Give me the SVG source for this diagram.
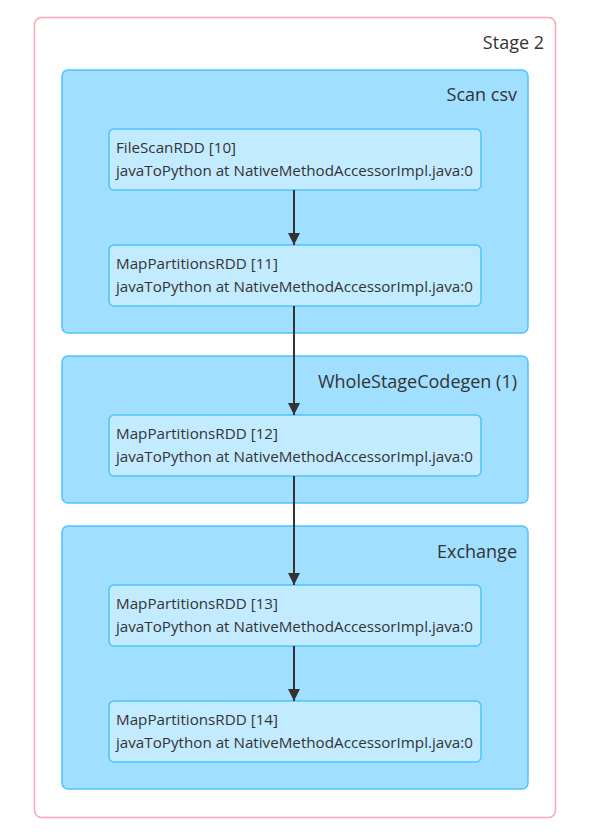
<svg xmlns="http://www.w3.org/2000/svg" width="592" height="834" viewBox="0 0 592 834">
  <style>
    .stage { fill: #ffffff; stroke: #ffa4b4; stroke-width: 1.5; }
    .cluster { fill: #a0dfff; stroke: #4fc3ff; stroke-width: 1.5; }
    .node { fill: #c3ebff; stroke: #4fc3ff; stroke-width: 1.5; }
    .title { font-family: "Open Sans", "Noto Sans", sans-serif; font-size: 18px; fill: #333333; text-anchor: end; }
    .label { font-family: "Open Sans", "Noto Sans", sans-serif; font-size: 15.2px; fill: #333333; }
    .edge { stroke: #333333; stroke-width: 2; fill: none; }
  </style>
  <defs>
    <marker id="arrow" viewBox="0 0 10 10" refX="10" refY="5" markerWidth="6" markerHeight="6" markerUnits="strokeWidth" orient="auto">
      <path d="M0,0 L10,5 L0,10 z" fill="#333333"/>
    </marker>
  </defs>

  <g id="stage-2">
    <rect class="stage" x="34.5" y="17.5" width="521" height="800" rx="7"/>
    <text class="title" x="544" y="49">Stage 2</text>
  </g>

  <g id="cluster-scan-csv">
    <rect class="cluster" x="62" y="70" width="466" height="263" rx="6"/>
    <text class="title" x="517" y="101">Scan csv</text>
  </g>
  <g id="cluster-wholestagecodegen">
    <rect class="cluster" x="62" y="356" width="466" height="147" rx="6"/>
    <text class="title" x="517" y="388">WholeStageCodegen (1)</text>
  </g>
  <g id="cluster-exchange">
    <rect class="cluster" x="62" y="526" width="466" height="263" rx="6"/>
    <text class="title" x="517" y="558">Exchange</text>
  </g>

  <g id="node-10">
    <rect class="node" x="109" y="129" width="372" height="61" rx="5"/>
    <text class="label" x="116" y="153">FileScanRDD [10]</text>
    <text class="label" x="116" y="176">javaToPython at NativeMethodAccessorImpl.java:0</text>
  </g>
  <g id="node-11">
    <rect class="node" x="109" y="245" width="372" height="61" rx="5"/>
    <text class="label" x="116" y="269">MapPartitionsRDD [11]</text>
    <text class="label" x="116" y="292">javaToPython at NativeMethodAccessorImpl.java:0</text>
  </g>
  <g id="node-12">
    <rect class="node" x="109" y="415" width="372" height="61" rx="5"/>
    <text class="label" x="116" y="439">MapPartitionsRDD [12]</text>
    <text class="label" x="116" y="462">javaToPython at NativeMethodAccessorImpl.java:0</text>
  </g>
  <g id="node-13">
    <rect class="node" x="109" y="585" width="372" height="61" rx="5"/>
    <text class="label" x="116" y="609">MapPartitionsRDD [13]</text>
    <text class="label" x="116" y="632">javaToPython at NativeMethodAccessorImpl.java:0</text>
  </g>
  <g id="node-14">
    <rect class="node" x="109" y="701" width="372" height="61" rx="5"/>
    <text class="label" x="116" y="725">MapPartitionsRDD [14]</text>
    <text class="label" x="116" y="748">javaToPython at NativeMethodAccessorImpl.java:0</text>
  </g>

  <g id="edges">
    <line class="edge" x1="294" y1="190" x2="294" y2="245" marker-end="url(#arrow)"/>
    <line class="edge" x1="294" y1="306" x2="294" y2="415" marker-end="url(#arrow)"/>
    <line class="edge" x1="294" y1="476" x2="294" y2="585" marker-end="url(#arrow)"/>
    <line class="edge" x1="294" y1="646" x2="294" y2="701" marker-end="url(#arrow)"/>
  </g>
</svg>
